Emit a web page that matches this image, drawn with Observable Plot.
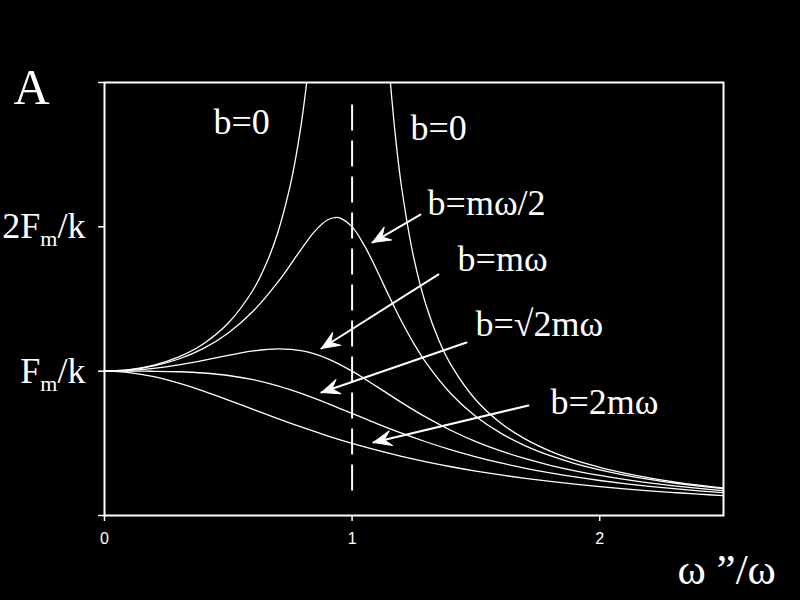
<!DOCTYPE html>
<html><head><meta charset="utf-8">
<script src="https://cdn.jsdelivr.net/npm/d3@7"></script>
<script src="https://cdn.jsdelivr.net/npm/@observablehq/plot@0.6"></script>
<style>html,body{margin:0;padding:0;background:#000;overflow:hidden;} #chart{width:800px;height:600px;}</style>
</head><body><div id="chart"></div>
<script>
// ---- data ----
const grid = [0,0.1,0.2,0.3,0.4,0.5,0.6,0.7,0.8,0.9,1.0,1.1,1.2,1.3,1.4,1.5,1.6,1.7,1.8,1.9,2.0,2.1,2.2,2.3,2.4,2.5];

const b0LeftX  = [0,0.1,0.2,0.3,0.4,0.5,0.6,0.65,0.7,0.75,0.775,0.8,0.8165];
const b0LeftY  = [1,1.0101,1.0417,1.0989,1.1905,1.3333,1.5625,1.7316,1.9608,2.2857,2.5039,2.7778,3.0];
const b0RightX = [1.1547,1.175,1.2,1.25,1.3,1.35,1.4,1.5,1.6,1.7,1.8,1.9,2.0,2.1,2.2,2.3,2.4,2.5];
const b0RightY = [3.0,2.6273,2.2727,1.7778,1.4493,1.2158,1.0417,0.8,0.6410,0.5291,0.4464,0.3831,0.3333,0.2933,0.2604,0.2331,0.2101,0.1905];

const bHalfX = [0,0.1,0.2,0.3,0.4,0.5,0.6,0.7,0.8,0.85,0.9,0.935,0.95,1.0,1.05,1.1,1.15,1.2,1.25,1.3,1.4,1.5,1.6,1.7,1.8,1.9,2.0,2.1,2.2,2.3,2.4,2.5];
const bHalfY = [1,1.0088,1.0361,1.0843,1.1581,1.2649,1.4148,1.6167,1.8582,1.9701,2.0472,2.0656,2.0623,2.0,1.8695,1.6986,1.5168,1.3440,1.1893,1.0549,0.8417,0.6860,0.5704,0.4825,0.4142,0.3600,0.3162,0.2803,0.2503,0.2252,0.2037,0.1853];

const bOneY   = [1,1.0050,1.0198,1.0436,1.0748,1.1094,1.1399,1.1546,1.1399,1.0872,1.0,0.8930,0.7824,0.6795,0.5891,0.5121,0.4475,0.3934,0.3480,0.3098,0.2774,0.2497,0.2260,0.2054,0.1876,0.1720];
const bSqrt2Y = [1,1.0000,0.9992,0.9960,0.9874,0.9701,0.9409,0.8980,0.8423,0.7771,0.7071,0.6370,0.5704,0.5092,0.4545,0.4061,0.3639,0.3270,0.2949,0.2670,0.2425,0.2211,0.2023,0.1857,0.1711,0.1580];
const bTwoY   = [1,0.9901,0.9615,0.9174,0.8621,0.8,0.7353,0.6711,0.6098,0.5525,0.5,0.4525,0.4098,0.3717,0.3378,0.3077,0.2809,0.2571,0.2358,0.2169,0.2,0.1848,0.1712,0.1590,0.1479,0.1379];

const xTicks = [0,1,2];
const yTicks = [0,1,2,3];
const yTickLabels = {1: ["F","m","/k"], 2: ["2F","m","/k"]};

const labelText = ["b=0","b=0","b=m\u03c9/2","b=m\u03c9","b=\u221a2m\u03c9","b=2m\u03c9"];
const labelX    = [0.440,1.236,1.305,1.426,1.498,1.801];
const labelY    = [2.640,2.605,2.085,1.691,1.247,0.700];

const arrowFromX = [1.276,1.349,1.462,1.712];
const arrowFromY = [2.085,1.670,1.199,0.762];
const arrowToX   = [1.082,0.876,0.876,1.086];
const arrowToY   = [1.891,1.157,0.852,0.506];

const resonanceX = [1];
const dashFrom = 0.17, dashTo = 2.88;

const yTitle = "A";
const xTitle = "\u03c9 \u201d/\u03c9";

// ---- build tables ----
const rows = [];
b0LeftX.forEach((x,i)=>rows.push({name:"b0L", x, y:b0LeftY[i]}));
b0RightX.forEach((x,i)=>rows.push({name:"b0R", x, y:b0RightY[i]}));
bHalfX.forEach((x,i)=>rows.push({name:"bHalf", x, y:bHalfY[i]}));
grid.forEach((x,i)=>rows.push({name:"bOne", x, y:bOneY[i]}));
grid.forEach((x,i)=>rows.push({name:"bSqrt2", x, y:bSqrt2Y[i]}));
grid.forEach((x,i)=>rows.push({name:"bTwo", x, y:bTwoY[i]}));

const labels = labelText.map((t,i)=>({t, x:labelX[i], y:labelY[i]}));
const arrows = arrowFromX.map((x,i)=>({x1:x, y1:arrowFromY[i], x2:arrowToX[i], y2:arrowToY[i]}));

const serif = "'Liberation Serif', 'Times New Roman', serif";
const sans = "'Liberation Sans', Arial, sans-serif";

// filled, notched arrowhead (tip at the anchor)
const headShape = {
  draw(context, l) {
    const w = 7.5, h = l;
    context.moveTo(0, -l);
    context.lineTo(-w, -l + h);
    context.lineTo(0, -l + h * 0.62);
    context.lineTo(w, -l + h);
    context.closePath();
  }
};

function makePlot(heads) {
  return Plot.plot({
    width: 800, height: 600,
    marginLeft: 104, marginRight: 77, marginTop: 82, marginBottom: 85,
    x: {domain: [0, 2.5]},
    y: {domain: [0, 3]},
    style: {background: "#000", color: "#fff", fontFamily: serif, overflow: "visible"},
    marks: [
      Plot.axisX({ticks: xTicks, tickSize: 6, tickPadding: 11, tickFormat: d => String(d), fontSize: 16, fontFamily: sans, label: null, strokeWidth: 1.5}),
      Plot.axisY({ticks: yTicks, tickSize: 6, tickPadding: 13, tickFormat: d => yTickLabels[d] ? yTickLabels[d].join("|") : "", fontSize: 36, fontFamily: serif, label: null, strokeWidth: 1.5}),
      Plot.frame({stroke: "#fff", strokeWidth: 2}),
      Plot.ruleX(resonanceX, {x: d => d, y1: dashFrom, y2: dashTo, stroke: "#fff", strokeWidth: 2, strokeDasharray: "26,10"}),
      Plot.line(rows, {x: "x", y: "y", z: "name", stroke: "#fff", strokeWidth: 1.3, curve: "catmull-rom", clip: true}),
      Plot.arrow(arrows, {x1: "x1", y1: "y1", x2: "x2", y2: "y2", stroke: "#fff", strokeWidth: 2, headLength: 0}),
      Plot.vector(heads, {x: "x2", y: "y2", rotate: "angle", length: 18, anchor: "end", shape: headShape, fill: "#fff", stroke: "#fff", strokeWidth: 1}),
      Plot.text(labels, {x: "x", y: "y", text: "t", textAnchor: "start", lineAnchor: "bottom", fontSize: 36, fontFamily: serif, fill: "#fff"}),
      Plot.text([yTitle], {frameAnchor: "top-left", text: d => d, dx: -91, dy: 21, textAnchor: "start", lineAnchor: "bottom", fontSize: 50, fontFamily: serif, fill: "#fff"}),
      Plot.text([xTitle], {frameAnchor: "bottom-right", text: d => d, dx: -46, dy: 68, textAnchor: "start", lineAnchor: "bottom", fontSize: 43, fontFamily: serif, fill: "#fff"})
    ]
  });
}

// first pass: get the plot's scales to orient the arrowheads on screen
const probe = makePlot([]);
const sx = probe.scale("x"), sy = probe.scale("y");
const heads = arrows.map(a => {
  const dx = sx.apply(a.x2) - sx.apply(a.x1);
  const dy = sy.apply(a.y2) - sy.apply(a.y1);
  return {...a, angle: Math.atan2(dx, -dy) * 180 / Math.PI};
});
const plot = makePlot(heads);

// subscripts on y tick labels
plot.querySelectorAll('g[aria-label="y-axis tick label"] text').forEach(t => {
  const s = t.textContent;
  if (!s.includes("|")) return;
  const parts = s.split("|");
  t.textContent = "";
  const ns = "http://www.w3.org/2000/svg";
  const a = document.createElementNS(ns, "tspan"); a.textContent = parts[0]; t.appendChild(a);
  const b = document.createElementNS(ns, "tspan"); b.textContent = parts[1]; b.setAttribute("font-size", "22"); b.setAttribute("dy", "8"); t.appendChild(b);
  const c = document.createElementNS(ns, "tspan"); c.textContent = parts[2]; c.setAttribute("dy", "-8"); t.appendChild(c);
});

document.getElementById("chart").appendChild(plot);
</script>
</body></html>
